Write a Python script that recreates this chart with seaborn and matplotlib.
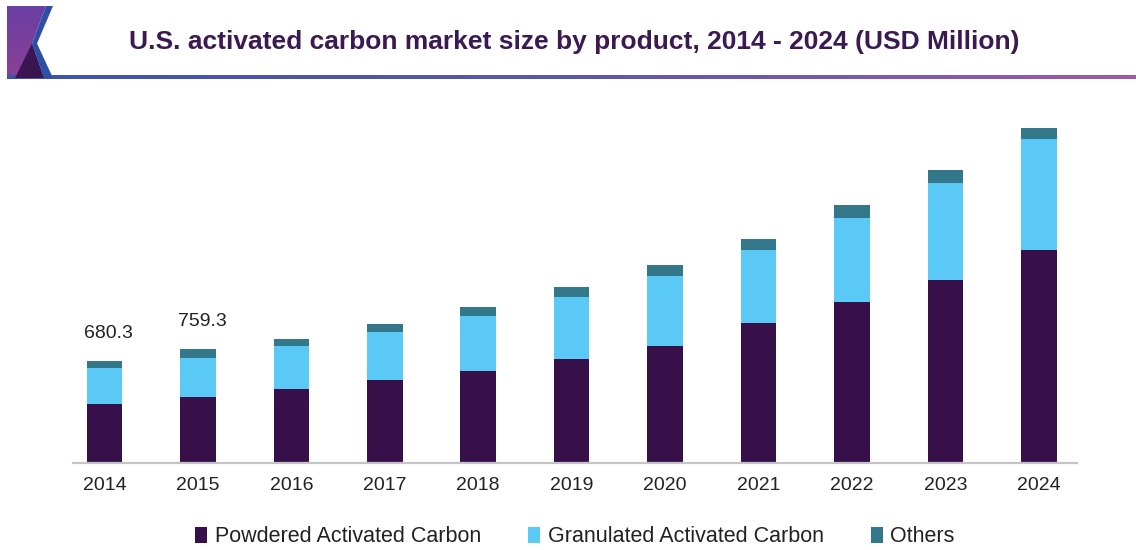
import numpy as np
import pandas as pd
import matplotlib
matplotlib.use("Agg")
import matplotlib.pyplot as plt
from matplotlib.colors import LinearSegmentedColormap
from matplotlib.patches import Polygon, Patch
import seaborn as sns

# U.S. activated carbon market size by product (USD Million)
years = ["2014", "2015", "2016", "2017", "2018", "2019",
         "2020", "2021", "2022", "2023", "2024"]
powdered = [396.0, 440.0, 491.0, 551.0, 615.0, 693.0, 779.0, 934.0, 1071.0, 1217.0, 1416.0]
granular = [234.0, 257.0, 286.0, 323.0, 363.0, 410.0, 465.0, 483.0, 558.0, 642.0, 735.0]
others = [50.3, 62.3, 50.5, 53.0, 62.0, 70.0, 73.0, 73.0, 86.0, 88.0, 77.0]
labeled_years = ["2014", "2015"]

series_names = ["Powdered Activated Carbon", "Granulated Activated Carbon", "Others"]
colors = ["#381049", "#5bc9f6", "#32778a"]

df = pd.DataFrame({"year": years, "powdered": powdered,
                   "granular": granular, "others": others})
df["pg"] = df["powdered"] + df["granular"]
df["total"] = df["pg"] + df["others"]

sns.set_theme(style="white")
plt.rcParams["font.family"] = ["Liberation Sans", "DejaVu Sans"]

W, H = 1136, 550
fig = plt.figure(figsize=(W / 100, H / 100), dpi=100)

# ---- header: logo, title and gradient rule ----
hdr = fig.add_axes([0, 0, 1, 1], zorder=0)
hdr.set_xlim(0, W)
hdr.set_ylim(H, 0)
hdr.axis("off")

purple_cmap = LinearSegmentedColormap.from_list("logo", ["#6a40a2", "#8a3f97"])
grad_v = np.linspace(0, 1, 64).reshape(-1, 1)
logo_shape = Polygon([(7, 6), (46, 6), (32, 43.5), (44, 78), (7, 78)],
                     closed=True, facecolor="none", edgecolor="none")
hdr.add_patch(logo_shape)
im = hdr.imshow(grad_v, extent=(7, 53, 78, 6), cmap=purple_cmap, aspect="auto")
im.set_clip_path(logo_shape)
hdr.add_patch(Polygon([(15, 78), (32, 43.5), (44, 78)], closed=True,
                      facecolor="#3a1650", edgecolor="none"))
hdr.add_patch(Polygon([(46, 6), (53, 6), (37, 43.5), (53, 78), (44, 78), (32, 43.5)],
                      closed=True, facecolor="#2f4ea6", edgecolor="none"))

rule_cmap = LinearSegmentedColormap.from_list("rule", ["#3d54a8", "#5a58aa", "#9d5aa8"])
grad_h = np.linspace(0, 1, 256).reshape(1, -1)
hdr.imshow(grad_h, extent=(7, W, 79, 75.5), cmap=rule_cmap, aspect="auto")
hdr.set_xlim(0, W)
hdr.set_ylim(H, 0)

fig.text(574 / W, 1 - 42 / H,
         "U.S. activated carbon market size by product, 2014 - 2024 (USD Million)",
         ha="center", va="center", fontsize=19, fontweight="bold", color="#3b1a52")

# ---- stacked bars ----
ax = fig.add_axes([72.7 / W, (H - 463.3) / H, 1004 / W, 353.3 / H], zorder=1)
ax.patch.set_alpha(0)

bar_w = 0.38
sns.barplot(data=df, x="year", y="total", color=colors[2], width=bar_w,
            saturation=1, ax=ax, linewidth=0)
sns.barplot(data=df, x="year", y="pg", color=colors[1], width=bar_w,
            saturation=1, ax=ax, linewidth=0)
sns.barplot(data=df, x="year", y="powdered", color=colors[0], width=bar_w,
            saturation=1, ax=ax, linewidth=0)

ax.set_xlim(-0.34, 10.405)
ax.set_ylim(0, 2346)
ax.set_xlabel("")
ax.set_ylabel("")
ax.set_yticks([])
ax.tick_params(axis="x", length=0, pad=9.8, labelsize=14, labelcolor="#222222")
for side in ["top", "right", "left"]:
    ax.spines[side].set_visible(False)
ax.spines["bottom"].set_color("#c4c4c4")
ax.spines["bottom"].set_linewidth(1.6)

for i, yr in enumerate(years):
    if yr in labeled_years:
        tot = df.loc[i, "total"]
        ax.annotate(f"{tot:.1f}", xy=(i, tot), xytext=(3, 13.5),
                    textcoords="offset points", ha="center", va="bottom",
                    fontsize=14, color="#222222")

handles = [Patch(facecolor=c, edgecolor="none", label=n)
           for c, n in zip(colors, series_names)]
fig.legend(handles=handles, loc="center", bbox_to_anchor=(575 / W, 1 - 537 / H),
           ncol=3, frameon=False, fontsize=15.5, handlelength=0.55,
           handleheight=0.7, handletextpad=0.35, columnspacing=2.2,
           labelcolor="#222222")

fig.savefig("out.png", dpi=100, facecolor="white")
